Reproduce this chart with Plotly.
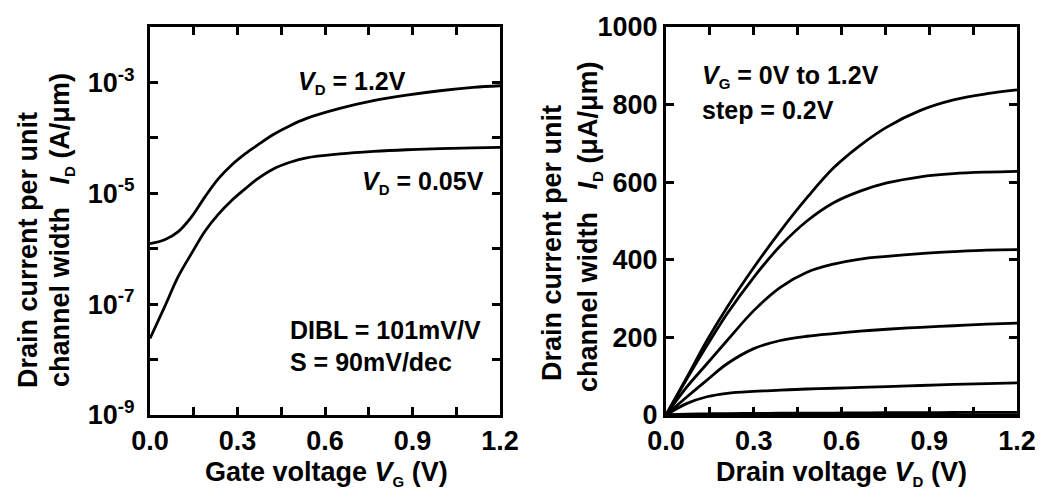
import plotly.graph_objects as go

# ---- Transfer characteristics (left panel), I_D in A/um ----
vg = [0.0, 0.05, 0.097, 0.143, 0.189, 0.234, 0.28, 0.326, 0.366, 0.423, 0.48,
      0.537, 0.651, 0.766, 0.88, 0.994, 1.108, 1.2]
id_vd_high = [1.23e-6, 1.45e-6, 2.04e-6, 3.80e-6, 8.71e-6, 1.82e-5, 3.24e-5,
              5.13e-5, 7.24e-5, 1.15e-4, 1.66e-4, 2.24e-4, 3.39e-4, 4.68e-4,
              5.89e-4, 7.08e-4, 8.13e-4, 8.71e-4]
id_vd_low = [2.40e-8, 8.91e-8, 3.16e-7, 8.32e-7, 2.09e-6, 4.17e-6, 7.41e-6,
             1.20e-5, 1.78e-5, 2.75e-5, 3.63e-5, 4.37e-5, 5.13e-5, 5.69e-5,
             6.10e-5, 6.38e-5, 6.61e-5, 6.76e-5]

# ---- Output characteristics (right panel), I_D in uA/um ----
vd = [0.0, 0.072, 0.14, 0.209, 0.30, 0.391, 0.482, 0.573, 0.664, 0.755,
      0.87, 0.983, 1.097, 1.2]
id_vg12 = [0, 98, 192, 278, 380, 474, 560, 637, 695, 742, 785, 812, 828, 838]
id_vg10 = [0, 94, 179, 261, 355, 436, 500, 547, 577, 598, 614, 622, 626, 628]
id_vg08 = [0, 73, 132, 192, 269, 329, 368, 389, 402, 409, 416, 421, 425, 426]
id_vg06 = [0, 47, 90, 132, 171, 192, 203, 210, 216, 221, 226, 230, 234, 237]
id_vg04 = [0, 30, 47, 56, 61, 64, 67, 69, 71, 73, 76, 79, 81, 83]
id_vg02 = [0, 2, 3, 3.5, 4, 4.5, 5, 5, 5.5, 6, 6, 6.5, 7, 7]
id_vg00 = [0, 0.1, 0.1, 0.1, 0.1, 0.1, 0.1, 0.1, 0.1, 0.1, 0.1, 0.1, 0.1, 0.1]
output_curves = [id_vg00, id_vg02, id_vg04, id_vg06, id_vg08, id_vg10, id_vg12]

x_ticks = [0.0, 0.15, 0.3, 0.45, 0.6, 0.75, 0.9, 1.05, 1.2]
x_labels = ["0.0", "", "0.3", "", "0.6", "", "0.9", "", "1.2"]
log_ticks = [1e-9, 1e-8, 1e-7, 1e-6, 1e-5, 1e-4, 1e-3, 1e-2]
log_labels = ["10<sup>-9</sup>", "", "10<sup>-7</sup>", "", "10<sup>-5</sup>", "",
              "10<sup>-3</sup>", ""]
lin_ticks = [0, 200, 400, 600, 800, 1000]

W, H = 1046, 500
FONT = "Liberation Sans, Arial, sans-serif"


def px(x):
    return x / W


def py(y):
    return 1 - y / H


def sub(s):
    # small, low subscript like the printed figure
    return f'<sub><span style="font-size:15px">{s}</span></sub>'


fig = go.Figure()
line = dict(color="black", width=2.8, shape="spline", smoothing=1.0,
            simplify=False)

fig.add_trace(go.Scatter(x=vg, y=id_vd_high, mode="lines", line=line,
                         xaxis="x", yaxis="y"))
fig.add_trace(go.Scatter(x=vg, y=id_vd_low, mode="lines", line=line,
                         xaxis="x", yaxis="y"))
for c in output_curves:
    fig.add_trace(go.Scatter(x=vd, y=c, mode="lines", line=line,
                             xaxis="x2", yaxis="y2"))

axis_common = dict(
    showline=True, linecolor="black", linewidth=3.2, mirror="ticks",
    ticks="inside", ticklen=8, tickwidth=2.5, tickcolor="black",
    showgrid=False, zeroline=False, automargin=False,
    tickfont=dict(family=FONT, size=27, color="black", weight="bold"),
)

fig.update_layout(
    template="none",
    width=W, height=H, margin=dict(l=0, r=0, t=0, b=0, pad=0),
    paper_bgcolor="white", plot_bgcolor="white", showlegend=False,
    xaxis=dict(domain=[px(150), px(500)], range=[0, 1.2], tickvals=x_ticks,
               ticktext=x_labels, anchor="y", ticklabelstandoff=-1,
               **axis_common),
    yaxis=dict(domain=[py(415), py(27)], type="log", range=[-9, -2],
               tickvals=log_ticks, ticktext=log_labels, anchor="x",
               ticklabelstandoff=7, **axis_common),
    xaxis2=dict(domain=[px(666), px(1017)], range=[0, 1.2], tickvals=x_ticks,
                ticktext=x_labels, anchor="y2", ticklabelstandoff=-1,
                **axis_common),
    yaxis2=dict(domain=[py(415), py(27)], range=[0, 1000], tickvals=lin_ticks,
                anchor="x2", ticklabelstandoff=0, **axis_common),
)

title_font = dict(family=FONT, size=27, color="black", weight="bold")
ann_font = dict(family=FONT, size=25, color="black", weight="bold")


def note(x, y, text, font=ann_font, angle=0, xanchor="center"):
    fig.add_annotation(x=px(x), y=py(y), xref="paper", yref="paper", text=text,
                       showarrow=False, font=font, textangle=angle,
                       xanchor=xanchor, yanchor="middle")


# axis titles
note(326, 473, "Gate voltage <i>V</i>" + sub("G") + " (V)", title_font)
note(841, 473, "Drain voltage <i>V</i>" + sub("D") + " (V)", title_font)
note(28, 250, "Drain current per unit", title_font, -90)
note(62, 230, "channel width   <i>I</i>" + sub("D") + " (A/\u03bcm)", title_font, -90)
note(552, 243, "Drain current per unit", title_font, -90)
note(590, 227, "channel width   <i>I</i>" + sub("D") + " (\u03bcA/\u03bcm)", title_font, -90)

# panel labels
note(352, 82, "<i>V</i>" + sub("D") + " = 1.2V")
note(423, 182, "<i>V</i>" + sub("D") + " = 0.05V")
note(288, 330, "DIBL = 101mV/V", xanchor="left")
note(288, 362, "S = 90mV/dec", xanchor="left")
note(700, 76, "<i>V</i>" + sub("G") + " = 0V to 1.2V", xanchor="left")
note(700, 110, "step = 0.2V", xanchor="left")

fig.write_html("out.html")
